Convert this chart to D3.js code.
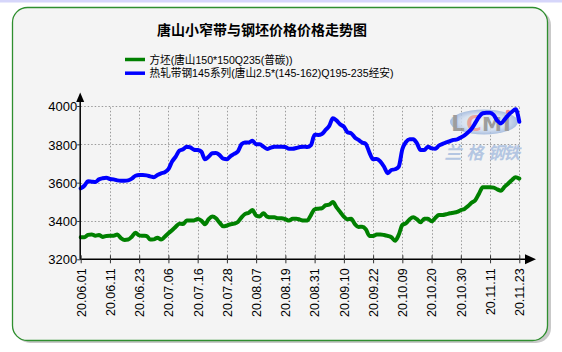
<!DOCTYPE html>
<html><head><meta charset="utf-8">
<script src="https://cdn.jsdelivr.net/npm/d3@7"></script>
<style>html,body{margin:0;padding:0;background:#fff;}svg{display:block;}</style>
</head><body>
<script>
const title = "唐山小窄带与钢坯价格价格走势图";
const seriesNames = ["方坯(唐山150*150Q235(普碳))", "热轧带钢145系列(唐山2.5*(145-162)Q195-235经安)"];
const tickLabels = ["20.06.01","20.06.11","20.06.23","20.07.06","20.07.16","20.07.28","20.08.07","20.08.19","20.08.31","20.09.10","20.09.22","20.10.09","20.10.20","20.10.30","20.11.11","20.11.23"];
const yTicks = [3200, 3400, 3600, 3800, 4000];
const billet = [3315,3315,3327,3330,3323,3327,3317,3322,3323,3323,3329,3311,3301,3303,3318,3339,3325,3323,3322,3303,
3304,3313,3303,3318,3336,3351,3370,3386,3384,3402,3402,3403,3410,3402,3383,3409,3423,3414,3391,3372,
3376,3383,3386,3395,3419,3437,3443,3457,3428,3424,3440,3423,3419,3419,3414,3414,3409,3402,3412,3412,
3407,3402,3403,3431,3461,3464,3466,3482,3485,3499,3471,3447,3423,3409,3412,3384,3369,3370,3357,3322,
3322,3329,3330,3327,3322,3315,3297,3327,3379,3388,3409,3419,3409,3393,3412,3412,3398,3416,3431,3431,
3435,3440,3443,3447,3457,3463,3478,3496,3510,3544,3576,3576,3576,3574,3565,3558,3579,3596,3614,3628,3621];
const strip = [3570,3584,3607,3605,3603,3617,3623,3626,3619,3617,3612,3610,3610,3612,3621,3636,3640,3640,3638,3633,
3628,3640,3649,3654,3670,3710,3736,3767,3774,3788,3784,3772,3770,3762,3722,3735,3753,3755,3744,3725,
3722,3739,3750,3762,3800,3809,3810,3819,3800,3800,3788,3776,3783,3788,3788,3788,3786,3777,3777,3781,
3786,3788,3786,3796,3850,3849,3854,3875,3896,3936,3924,3904,3892,3863,3857,3836,3823,3810,3802,3757,
3722,3724,3710,3683,3649,3666,3670,3683,3774,3812,3826,3826,3805,3770,3770,3788,3779,3777,3793,3802,
3810,3816,3823,3826,3836,3847,3863,3883,3913,3944,3962,3965,3965,3953,3923,3909,3930,3953,3970,3983,3918];
const pointsPerTick = 8;
const wmChars = ["兰","格","钢","铁"];
const wmLetters = ["L","C","M","I"];

const W = 562, H = 352;
const svg = d3.select("body").append("svg").attr("width", W).attr("height", H);

// page strip + panel
svg.append("rect").attr("x",0).attr("y",0).attr("width",W).attr("height",2.5).attr("fill","#d6d6fa");
svg.append("rect").attr("x",15).attr("y",10).attr("width",536).attr("height",333).attr("rx",15)
  .attr("fill","#c9c9c9");
svg.append("rect").attr("x",12.5).attr("y",7.5).attr("width",535).attr("height",333).attr("rx",15)
  .attr("fill","#f4f4f4").attr("stroke","#2f8f2f").attr("stroke-width",1.3);

const x0 = 80.7, x1 = 519.3, yb = 259.3, yt = 106;
const n = billet.length;
const x = d3.scaleLinear().domain([0, n-1]).range([x0, x1]);
const y = d3.scaleLinear().domain([3200, 4000]).range([yb, yt]);

// title
svg.append("text").attr("x", 262).attr("y", 35).attr("text-anchor","middle")
  .attr("font-family","'Noto Sans CJK SC', sans-serif").attr("font-weight","bold").attr("font-size",14)
  .attr("fill","#000").text(title);

// legend
const legColors = ["#008000", "#0000ff"];
const legLen = [143, 244];
seriesNames.forEach((s, k) => {
  const ly = 59.5 + k*13.7;
  svg.append("line").attr("x1",125).attr("x2",145).attr("y1",ly).attr("y2",ly)
    .attr("stroke",legColors[k]).attr("stroke-width",3.5);
  svg.append("text").attr("x",149.5).attr("y",ly+4)
    .attr("font-family","'Liberation Sans', 'Noto Sans CJK SC', sans-serif").attr("font-size",11.5)
    .attr("textLength",legLen[k]).attr("lengthAdjust","spacingAndGlyphs")
    .attr("fill","#000").text(s);
});

// grid
const tickIdx = tickLabels.map((d,i) => i*pointsPerTick);
const grid = svg.append("g").attr("stroke","#9a9a9a").attr("stroke-width",1).attr("stroke-dasharray","1.5,2");
tickIdx.slice(1).forEach(i => {
  grid.append("line").attr("x1",Math.round(x(i))+0.5).attr("x2",Math.round(x(i))+0.5).attr("y1",yb).attr("y2",yt);
});
yTicks.slice(1).forEach(v => {
  grid.append("line").attr("x1",x0).attr("x2",x1).attr("y1",Math.round(y(v))+0.5).attr("y2",Math.round(y(v))+0.5);
});

// watermark
const defs = svg.append("defs");
const grad = defs.append("radialGradient").attr("id","eg").attr("r","50%");
grad.append("stop").attr("offset","0%").attr("stop-color","#eef2f8");
grad.append("stop").attr("offset","65%").attr("stop-color","#d3dff0");
grad.append("stop").attr("offset","100%").attr("stop-color","#9cb5dc");
const wm = svg.append("g").attr("opacity",0.85);
wm.append("ellipse").attr("cx",484).attr("cy",122).attr("rx",34).attr("ry",12.5).attr("fill","url(#eg)");
const letterX = [458, 474, 492, 507];
const letterC = ["#8e8e8e","#e9958f","#8e8e8e","#8e8e8e"];
wmLetters.forEach((c,i) => {
  wm.append("text").attr("x",letterX[i]).attr("y",131).attr("text-anchor","middle")
    .attr("font-family","'DejaVu Sans', sans-serif").attr("font-weight","bold").attr("font-size",i===2?20:21)
    .attr("fill",letterC[i]).text(c);
});
wm.append("circle").attr("cx",508).attr("cy",112).attr("r",2.3).attr("fill","#f07c7c");
const charX = [453, 475, 496, 511.5];
wmChars.forEach((c,i) => {
  wm.append("text").attr("x",charX[i]).attr("y",159).attr("text-anchor","middle")
    .attr("font-family","'Noto Sans CJK SC', sans-serif").attr("font-weight","bold").attr("font-size",17)
    .attr("font-style","italic").attr("fill","#a9bfe0").text(c);
});

// lines
const line = d3.line().x((d,i) => x(i)).y(d => y(d)).curve(d3.curveMonotoneX);
[billet, strip].forEach((s,k) => {
  svg.append("path").datum(s).attr("d", line).attr("fill","none")
    .attr("stroke", legColors[k]).attr("stroke-width",4).attr("stroke-linejoin","round").attr("stroke-linecap","round");
});

// axes
const ax = svg.append("g");
ax.append("line").attr("x1",x0-0.5).attr("x2",527).attr("y1",yb).attr("y2",yb).attr("stroke","#000").attr("stroke-width",1.5);
ax.append("line").attr("x1",x0-0.5).attr("x2",x0-0.5).attr("y1",yb).attr("y2",100).attr("stroke","#000").attr("stroke-width",1.5);
ax.append("path").attr("d",`M${x0-0.5},92.5 L${x0-4.5},102 L${x0+3.5},102 Z`).attr("fill","#000");
ax.append("path").attr("d",`M536,${yb} L525,${yb-5} L525,${yb+5} Z`).attr("fill","#000");

const xAxis = d3.axisBottom(x).tickValues(tickIdx).tickFormat((d,i) => tickLabels[i]).tickSize(4).tickSizeOuter(0);
const gx = svg.append("g").attr("transform",`translate(0,${yb})`).call(xAxis);
gx.select(".domain").remove();
gx.selectAll(".tick line").attr("stroke","#333").attr("y1",-4).attr("y2",4);
gx.selectAll(".tick text").attr("font-family","'Liberation Sans', Arial, sans-serif").attr("font-size",12.5).attr("fill","#000")
  .attr("transform","rotate(-90)").attr("text-anchor","end").attr("x",-9).attr("y",0).attr("dy","0.35em");

const yAxis = d3.axisLeft(y).tickValues(yTicks).tickSize(3).tickSizeOuter(0).tickFormat(d3.format("d"));
const gy = svg.append("g").attr("transform",`translate(${x0-0.5},0)`).call(yAxis);
gy.select(".domain").remove();
gy.selectAll(".tick line").attr("stroke","#333");
gy.selectAll(".tick text").attr("font-family","'Liberation Sans', Arial, sans-serif").attr("font-size",13).attr("fill","#000")
  .attr("x",-3).attr("dy","0.36em");
</script>
</body></html>
